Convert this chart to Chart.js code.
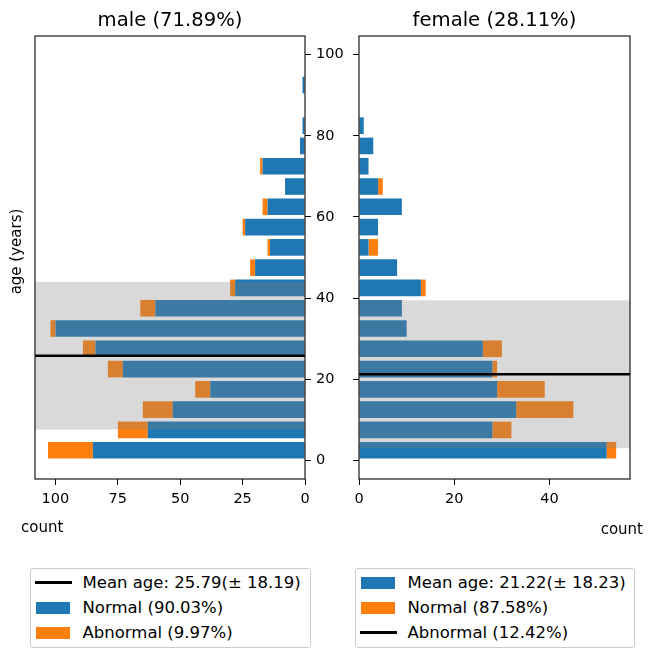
<!DOCTYPE html>
<html>
<head>
<meta charset="utf-8">
<script src="https://cdn.jsdelivr.net/npm/chart.js@4.4.1/dist/chart.umd.min.js"></script>
<style>
  html, body { margin: 0; padding: 0; background: #fff; }
  body { width: 661px; height: 648px; position: relative; overflow: hidden; font-family: "DejaVu Sans", sans-serif; }
  canvas { position: absolute; top: 0; }
  #maleChart { left: 0; }
  #femaleChart { left: 352px; }
  .legend { position: absolute; top: 568px; height: 80px; box-sizing: border-box; border: 1px solid #cccccc; border-radius: 3px; background: #fff; }
  .row { position: absolute; left: 0; right: 0; height: 20px; }
  .txt { position: absolute; left: 51.5px; top: 0; font-size: 16.5px; line-height: 20px; color: #000; white-space: nowrap; }
  .patch { position: absolute; left: 5px; top: 4px; width: 34px; height: 12px; }
  .line { position: absolute; left: 4px; top: 8.75px; width: 37px; height: 2.5px; background: #000; }
</style>
</head>
<body>
<canvas id="maleChart" width="352" height="545"></canvas>
<canvas id="femaleChart" width="309" height="545"></canvas>
<div class="legend" id="maleLegend" style="left:30px;width:281px;"></div>
<div class="legend" id="femaleLegend" style="left:355px;width:280px;"></div>
<script>
// Age bins of 5 years, given by their centres
const ageBins = [2.5, 7.5, 12.5, 17.5, 22.5, 27.5, 32.5, 37.5, 42.5, 47.5,
                 52.5, 57.5, 62.5, 67.5, 72.5, 77.5, 82.5, 87.5, 92.5, 97.5];

// Counts per bin
const maleNormal     = [85, 63, 53, 38, 73, 84, 100, 60, 28, 20, 14, 24, 15, 8, 17, 2, 1, 0, 1, 0];
const maleAbnormal   = [18, 12, 12,  6,  6,  5,   2,  6,  2,  2,  1,  1,  2, 0,  1, 0, 0, 0, 0, 0];
const femaleNormal   = [52, 28, 33, 29, 28, 26, 10,  9, 13,  8,  2,  4,  9, 4,  2, 3, 1, 0, 0, 0];
const femaleAbnormal = [ 2,  4, 12, 10,  1,  4,  0,  0,  1,  0,  2,  0,  0, 1,  0, 0, 0, 0, 0, 0];

// Mean age and standard deviation: [male, female]
const meanAge = [25.79, 21.22];
const sdAge   = [18.19, 18.23];

// Tick values
const ageTicks = [0, 20, 40, 60, 80, 100];
const maleCountTicks = [0, 25, 50, 75, 100];
const femaleCountTicks = [0, 20, 40];

const BLUE = '#1f77b4';
const ORANGE = '#ff7f0e';
const FONT = '"DejaVu Sans", sans-serif';

Chart.defaults.font.family = FONT;
Chart.defaults.color = '#000';

const sum = a => a.reduce((s, v) => s + v, 0);
const pct = (n, d) => (100 * n / d).toFixed(2) + '%';

const maleTotal = sum(maleNormal) + sum(maleAbnormal);
const femaleTotal = sum(femaleNormal) + sum(femaleAbnormal);
const allTotal = maleTotal + femaleTotal;

const toPoints = counts => counts.map((c, i) => ({ x: c, y: ageBins[i] }));

// Shaded mean ± sd band, mean line, axes frame and axis labels
const panelDecor = {
  id: 'panelDecor',
  afterDatasetsDraw(chart, args, o) {
    const { ctx, chartArea: a, scales: { y } } = chart;
    const top = y.getPixelForValue(o.mean + o.sd);
    const bot = y.getPixelForValue(o.mean - o.sd);
    const m = y.getPixelForValue(o.mean);
    ctx.save();
    ctx.beginPath();
    ctx.rect(a.left, a.top, a.right - a.left, a.bottom - a.top);
    ctx.clip();
    ctx.fillStyle = 'rgba(128,128,128,0.3)';
    ctx.fillRect(a.left, top, a.right - a.left, bot - top);
    ctx.strokeStyle = '#000';
    ctx.lineWidth = 2.5;
    ctx.beginPath();
    ctx.moveTo(a.left, m);
    ctx.lineTo(a.right, m);
    ctx.stroke();
    ctx.restore();
  },
  afterDraw(chart, args, o) {
    const { ctx, chartArea: a } = chart;
    ctx.save();
    ctx.strokeStyle = '#1a1a1a';
    ctx.lineWidth = 1.2;
    ctx.strokeRect(a.left, a.top, a.right - a.left, a.bottom - a.top);
    ctx.fillStyle = '#000';
    ctx.font = '15px ' + FONT;
    ctx.textBaseline = 'middle';
    // x axis label
    ctx.textAlign = o.xLabelAlign;
    const xl = o.xLabelAlign === 'left' ? a.left + o.xLabelDx : a.right + o.xLabelDx;
    ctx.fillText(o.xLabel, xl, a.bottom + o.xLabelDy);
    // y axis label
    if (o.yLabel) {
      ctx.translate(a.left - 17.5, (a.top + a.bottom) / 2 - 6);
      ctx.rotate(-Math.PI / 2);
      ctx.textAlign = 'center';
      ctx.fillText(o.yLabel, 0, 0);
    }
    ctx.restore();
  }
};

function makePanel(canvasId, cfg) {
  return new Chart(document.getElementById(canvasId), {
    type: 'bar',
    data: {
      datasets: [
        { label: 'Normal', data: toPoints(cfg.normal), backgroundColor: BLUE },
        { label: 'Abnormal', data: toPoints(cfg.abnormal), backgroundColor: ORANGE }
      ]
    },
    plugins: [panelDecor],
    options: {
      indexAxis: 'y',
      responsive: false,
      animation: false,
      devicePixelRatio: 1,
      layout: { padding: cfg.padding },
      datasets: { bar: { barPercentage: 1, categoryPercentage: 0.82, borderWidth: 0 } },
      scales: {
        x: {
          type: 'linear',
          min: 0,
          max: cfg.xMax,
          reverse: cfg.reverse,
          stacked: true,
          offset: false,
          border: { display: false },
          grid: { drawOnChartArea: false, drawTicks: true, tickLength: 6, tickColor: '#000', offset: false },
          ticks: { font: { size: 14.5 }, color: '#000', padding: 5.5, maxRotation: 0, autoSkip: false },
          afterBuildTicks: s => { s.ticks = cfg.xTicks.map(v => ({ value: v })); },
          afterFit: s => { s.height = 66; s.paddingLeft = 0; s.paddingRight = 0; }
        },
        y: {
          type: 'linear',
          position: cfg.yPosition,
          min: -4.6,
          max: 104.6,
          stacked: true,
          offset: false,
          border: { display: false },
          grid: { drawOnChartArea: false, drawTicks: true, tickLength: 6, tickColor: '#000', offset: false },
          ticks: {
            font: { size: 14.5 }, color: '#000', padding: 5, autoSkip: false,
            callback: v => cfg.showYLabels ? String(v) : ''
          },
          afterBuildTicks: s => { s.ticks = ageTicks.map(v => ({ value: v })); },
          afterFit: s => { s.width = cfg.yWidth; s.paddingTop = 0; s.paddingBottom = 0; }
        }
      },
      plugins: {
        legend: { display: false },
        tooltip: { enabled: false },
        title: {
          display: true,
          text: cfg.title,
          fullSize: false,
          color: '#000',
          font: { size: 19.6, weight: 'normal' },
          padding: { top: 8.7, bottom: 3.8 }
        },
        panelDecor: cfg.decor
      }
    }
  });
}

makePanel('maleChart', {
  normal: maleNormal,
  abnormal: maleAbnormal,
  title: 'male (' + pct(maleTotal, allTotal) + ')',
  xMax: 108.2,
  reverse: true,
  xTicks: maleCountTicks,
  yPosition: 'right',
  yWidth: 47,
  showYLabels: true,
  padding: { left: 35, right: 0, top: 0, bottom: 0 },
  decor: { mean: meanAge[0], sd: sdAge[0], xLabel: 'count', xLabelAlign: 'left', xLabelDx: -14, xLabelDy: 49, yLabel: 'age (years)' }
});

makePanel('femaleChart', {
  normal: femaleNormal,
  abnormal: femaleAbnormal,
  title: 'female (' + pct(femaleTotal, allTotal) + ')',
  xMax: 56.9,
  reverse: false,
  xTicks: femaleCountTicks,
  yPosition: 'left',
  yWidth: 7,
  showYLabels: false,
  padding: { left: 0, right: 31, top: 0, bottom: 0 },
  decor: { mean: meanAge[1], sd: sdAge[1], xLabel: 'count', xLabelAlign: 'right', xLabelDx: 13, xLabelDy: 51, yLabel: null }
});

// Legends below each panel
function buildLegend(id, items) {
  const box = document.getElementById(id);
  const rowTops = [3.7, 29.3, 53.7];
  items.forEach((it, i) => {
    const row = document.createElement('div');
    row.className = 'row';
    row.style.top = rowTops[i] + 'px';
    const h = document.createElement('div');
    h.className = it.kind;
    if (it.kind === 'patch') h.style.background = it.color;
    const t = document.createElement('div');
    t.className = 'txt';
    t.textContent = it.text;
    row.appendChild(h);
    row.appendChild(t);
    box.appendChild(row);
  });
}

const meanText = i => 'Mean age: ' + meanAge[i].toFixed(2) + '(\u00b1 ' + sdAge[i].toFixed(2) + ')';

buildLegend('maleLegend', [
  { kind: 'line', text: meanText(0) },
  { kind: 'patch', color: BLUE, text: 'Normal (' + pct(sum(maleNormal), maleTotal) + ')' },
  { kind: 'patch', color: ORANGE, text: 'Abnormal (' + pct(sum(maleAbnormal), maleTotal) + ')' }
]);

buildLegend('femaleLegend', [
  { kind: 'patch', color: BLUE, text: meanText(1) },
  { kind: 'patch', color: ORANGE, text: 'Normal (' + pct(sum(femaleNormal), femaleTotal) + ')' },
  { kind: 'line', text: 'Abnormal (' + pct(sum(femaleAbnormal), femaleTotal) + ')' }
]);
</script>
</body>
</html>
